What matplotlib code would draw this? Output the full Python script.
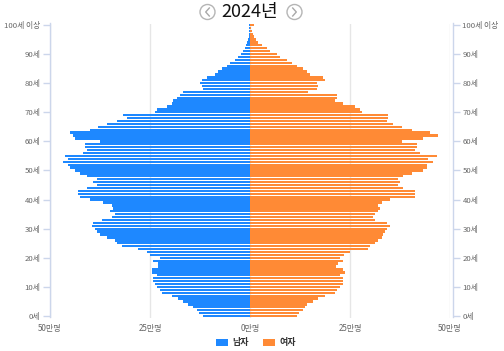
import numpy as np
import matplotlib
matplotlib.use("Agg")
from matplotlib import pyplot as plt
from matplotlib.patches import Patch, Ellipse
from matplotlib.lines import Line2D

plt.rcParams['font.family'] = ['Noto Sans CJK KR', 'DejaVu Sans']

# population by age (thousands), 0세 .. 100세 이상
ages = list(range(101))
male = [117, 128, 133, 142, 154, 167, 179, 196, 221, 225,
        233, 237, 243, 242, 233, 246, 246, 230, 231, 242,
        225, 250, 258, 279, 321, 333, 337, 358, 375, 383,
        387, 396, 392, 370, 346, 337, 350, 342, 346, 367,
        400, 425, 429, 429, 408, 383, 392, 383, 408, 425,
        437, 450, 454, 467, 454, 462, 417, 408, 412, 412,
        375, 437, 442, 450, 400, 379, 358, 333, 308, 317,
        237, 233, 208, 196, 192, 183, 175, 167, 117, 121,
        125, 121, 108, 87, 79, 71, 58, 50, 37, 29,
        23, 17, 12.5, 10, 7, 5, 3.3, 2.5, 1.7, 1.5,
        1.7]
female = [117, 123, 133, 137, 142, 158, 171, 187, 212, 217,
          225, 232, 233, 233, 225, 237, 233, 215, 221, 233,
          225, 235, 250, 296, 300, 312, 321, 329, 333, 337,
          342, 350, 342, 312, 308, 312, 321, 325, 321, 330,
          350, 412, 412, 412, 383, 371, 375, 371, 383, 404,
          433, 442, 442, 458, 446, 467, 425, 412, 417, 417,
          379, 433, 471, 450, 404, 379, 358, 342, 345, 345,
          279, 275, 262, 233, 212, 217, 217, 146, 167, 171,
          167, 187, 183, 150, 142, 133, 117, 104, 92, 75,
          67, 50, 42, 29, 21, 15, 10, 7, 4, 3,
          10]

yticks = list(range(0, 101, 10))
ylabels = [f"{a}세" for a in yticks[:-1]] + ["100세 이상"]
xticks = [-500000, -250000, 0, 250000, 500000]
xlabels = ["50만명", "25만명", "0만명", "25만명", "50만명"]

blue = "#1e88ff"
orange = "#ff8a35"
axis_col = "#ccd6eb"
grid_col = "#e6e6e6"
lab_col = "#666666"

fig = plt.figure(figsize=(5.04, 3.51), dpi=100)
ax = fig.add_axes([50/504, 1-317.5/351, 400/504, 294/351])

m = -np.array(male) * 1000
f = np.array(female) * 1000
ax.barh(ages, m, height=0.8, color=blue, zorder=3)
ax.barh(ages, f, height=0.8, color=orange, zorder=3)

ax.set_xlim(-500000, 500000)
ax.set_ylim(-0.5, 100.5)
ax.set_xticks(xticks)
ax.set_xticklabels(xlabels)
ax.set_yticks(yticks)
ax.set_yticklabels(ylabels)
ax.grid(axis='x', color=grid_col, linewidth=1.0, zorder=0)

for s in ['top', 'bottom']:
    ax.spines[s].set_visible(False)
for s in ['left', 'right']:
    ax.spines[s].set_color(axis_col)
    ax.spines[s].set_linewidth(1.0)
ax.spines['right'].set_position(('outward', 2))

ax.tick_params(axis='y', left=True, right=True, labelleft=True, labelright=True,
               length=5, width=1, color=axis_col, labelsize=5.6, labelcolor=lab_col, pad=2)
ax.tick_params(axis='x', length=0, labelsize=5.8, labelcolor=lab_col, pad=5)

# title with arrow buttons
fig.text(250/504, 1-12/351, "2024년", ha='center', va='center', fontsize=13, color='#111111')
for cx, d in [(207.5, 1), (294.5, -1)]:
    fig.add_artist(Ellipse((cx/504, 1-12/351), 15/504, 15/351, facecolor='white',
                           edgecolor='#b5b5b5', linewidth=1.0, transform=fig.transFigure))
    xs = [(cx + 1.8*d)/504, (cx - 1.8*d)/504, (cx + 1.8*d)/504]
    ys = [1-(12-4)/351, 1-12/351, 1-(12+4)/351]
    fig.add_artist(Line2D(xs, ys, color='#a8a8a8', linewidth=1.0, transform=fig.transFigure))

handles = [Patch(facecolor=blue, label="남자"), Patch(facecolor=orange, label="여자")]
leg = fig.legend(handles=handles, loc='center', bbox_to_anchor=(256/504, 1-343/351),
                 ncol=2, frameon=False, fontsize=6.5, handlelength=1.3, handleheight=0.9,
                 handletextpad=0.5, columnspacing=1.6)
for t in leg.get_texts():
    t.set_color('#333333')
    t.set_fontweight('bold')

fig.savefig("out.png", dpi=100)
